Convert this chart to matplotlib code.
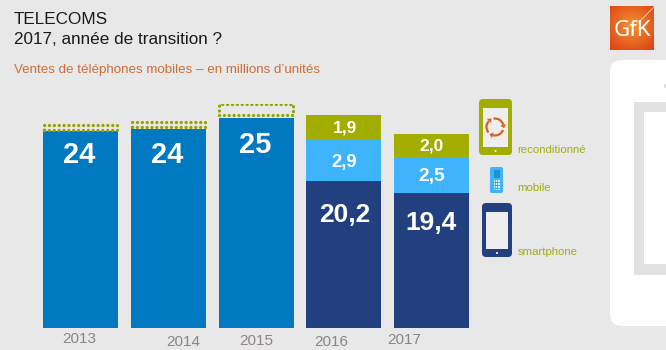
import matplotlib
matplotlib.use('Agg')
import matplotlib.pyplot as plt
import numpy as np
from matplotlib.patches import Rectangle, FancyBboxPatch, Arc, Polygon, Circle

plt.rcParams['font.family'] = ['Liberation Sans', 'DejaVu Sans']

# printed values (the original bars are not drawn to scale)
years = ['2013', '2014', '2015', '2016', '2017']
total_labels = ['24', '24', '25']
smartphone_labels = ['20,2', '19,4']
mobile_labels = ['2,9', '2,5']
recond_labels = ['1,9', '2,0']

# bar heights as they look in the picture
total_heights = [24.6, 24.9, 26.25]
smartphone_heights = [18.4, 16.9]
mobile_heights = [5.25, 4.5]
recond_heights = [3.0, 2.9]
dotted_bottoms = [24.8, 25.1, 26.6]
dotted_heights = [0.55, 0.65, 1.4]

BG = '#e8e8e8'
BLUE = '#0079c1'
NAVY = '#223f80'
SKY = '#3db4fb'
OLIVE = '#a3ad00'
ORANGE = '#d9601f'

fig = plt.figure(figsize=(6.66, 3.5), dpi=100, facecolor=BG)

# overlay in pixel coordinates for the slide furniture
bg = fig.add_axes([0, 0, 1, 1], zorder=0)
bg.set_xlim(0, 666)
bg.set_ylim(350, 0)
bg.axis('off')


def phone(x0, y0, x1, y1, body, screen, rad=4):
    bg.add_patch(FancyBboxPatch((x0 + rad, y0 + rad), x1 - x0 - 2 * rad, y1 - y0 - 2 * rad,
                                boxstyle=f'round,pad={rad},rounding_size={rad}', fc=body, ec='none'))
    bg.add_patch(Rectangle((x0 + 4, y0 + 8.5), x1 - x0 - 8, y1 - y0 - 17, fc=screen, ec='none'))
    bg.add_patch(Circle(((x0 + x1) / 2, y1 - 4), 1, fc='white', ec='none'))


# big white phone on the right
bg.add_patch(FancyBboxPatch((622, 72), 80, 242, boxstyle='round,pad=12,rounding_size=12',
                            fc='white', ec='none'))
bg.add_patch(Rectangle((634, 102), 40, 173, fc='#e2e2e2', ec='none'))
bg.add_patch(Rectangle((644, 112), 30, 152, fc='white', ec='none'))
bg.add_patch(Circle((666, 86), 2, fc='#d8d8d8', ec='none'))

# GfK logo
xx, yy = np.meshgrid(np.linspace(-1, 1, 60), np.linspace(-1, 1, 60))
glow = np.clip(1 - np.sqrt(xx ** 2 + (yy + 0.1) ** 2) / 1.3, 0, 1)
grad = np.zeros((60, 60, 3))
for k, (a, b) in enumerate(zip((0.87, 0.29, 0.09), (0.96, 0.58, 0.20))):
    grad[:, :, k] = a + (b - a) * glow
bg.imshow(grad, extent=(610, 654, 50, 6), aspect='auto', zorder=1)
bg.set_xlim(0, 666)
bg.set_ylim(350, 0)
bg.plot([638, 654], [23, 7], color='#ffd9b8', lw=0.6, zorder=2)
bg.text(632, 31, 'GfK', color='white', fontsize=16, family=['Noto Sans', 'DejaVu Sans'],
        ha='center', va='center', zorder=3)

# legend icons
phone(479, 99, 512, 155, OLIVE, '#eeeeee')
phone(482, 203, 512, 257, NAVY, '#eeeeee')
bg.add_patch(FancyBboxPatch((491, 168), 11, 24, boxstyle='round,pad=1,rounding_size=2',
                            fc=SKY, ec='none'))
bg.add_patch(Rectangle((494, 170), 6, 8, fc='#1f8fd6', ec='none'))
for row in range(4):
    for col in range(3):
        bg.add_patch(Rectangle((493.5 + col * 2.4, 180 + row * 2.9), 1.5, 1.7, fc='#dff1fd', ec='none'))

# recycle arrows
for start in (20, 140, 260):
    bg.add_patch(Arc((495, 127), 17, 17, theta1=start, theta2=start + 85, color=ORANGE, lw=1.6))
    end = np.deg2rad(start + 85)
    cx, cy = 495 + 8.5 * np.cos(end), 127 + 8.5 * np.sin(end)
    nx, ny = np.cos(end), np.sin(end)
    tx, ty = -ny, nx
    bg.add_patch(Polygon([(cx + 3 * nx, cy + 3 * ny), (cx - 3 * nx, cy - 3 * ny),
                          (cx + 3.5 * tx, cy + 3.5 * ty)], fc=ORANGE, ec='none'))

# title block
bg.text(14, 19, 'TELECOMS', fontsize=12.3, color='#1a1a1a', ha='left', va='center')
bg.text(14, 40, '2017, année de transition ?', fontsize=12.3, color='#1a1a1a', ha='left', va='center')
bg.text(14, 70, 'Ventes de téléphones mobiles – en millions d’unités', fontsize=9.6,
        color='#c8703a', ha='left', va='center')

# bars: 8 px per unit, 87.75 px per category
ax = fig.add_axes([36.8 / 666, (350 - 328) / 350, 438.75 / 666, 224 / 350], zorder=1)
ax.patch.set_alpha(0)
ax.set_xlim(-0.5, 4.5)
ax.set_ylim(0, 28)
ax.axis('off')

w = 0.855
x_total = np.arange(len(total_heights))
x_stack = np.arange(len(smartphone_heights)) + len(total_heights)
ax.bar(x_total, total_heights, w, color=BLUE, lw=0)
dotted = ax.bar(x_total, dotted_heights, w * 0.98, bottom=dotted_bottoms, fill=False, edgecolor='#98a300',
                linewidth=2.4, linestyle=(0, (0.01, 1.45)))
for rect in dotted:
    rect.set_capstyle('round')
ax.bar(x_stack, smartphone_heights, w, color=NAVY, lw=0)
ax.bar(x_stack, mobile_heights, w, bottom=smartphone_heights, color=SKY, lw=0)
ax.bar(x_stack, recond_heights, w, bottom=np.add(smartphone_heights, mobile_heights), color=OLIVE, lw=0)

# value labels
for x, y, s in zip((79, 167, 255), (155, 155, 145), total_labels):
    bg.text(x, y, s, fontsize=21, fontweight='bold', color='white', ha='center', va='center', zorder=5)
for x, y, s in zip((345, 431), (215, 223), smartphone_labels):
    bg.text(x, y, s, fontsize=19, fontweight='bold', color='white', ha='center', va='center', zorder=5)
for x, y, s, fs in zip((344, 432), (163, 177), mobile_labels, (13.3, 13.8)):
    bg.text(x, y, s, fontsize=fs, fontweight='bold', color='white', ha='center', va='center', zorder=5)
for x, y, s in zip((345, 431), (128, 146), recond_labels):
    bg.text(x, y, s, fontsize=12.5, fontweight='bold', color='white', ha='center', va='center', zorder=5)
bg.set_zorder(2)
bg.patch.set_alpha(0)
ax.set_zorder(1)

# year labels sit unevenly in the original
for x, y, s in zip((79, 183, 256, 331, 404), (339, 342, 341, 342, 340), years):
    bg.text(x, y, s, fontsize=11, color='#8c8582', ha='center', va='center')

# legend labels
for y, s in zip((150, 188, 252), ('reconditionné', 'mobile', 'smartphone')):
    bg.text(517.5, y, s, fontsize=8.2, color='#a3ad14', ha='left', va='center')

fig.savefig('out.png', dpi=100, facecolor=BG)
